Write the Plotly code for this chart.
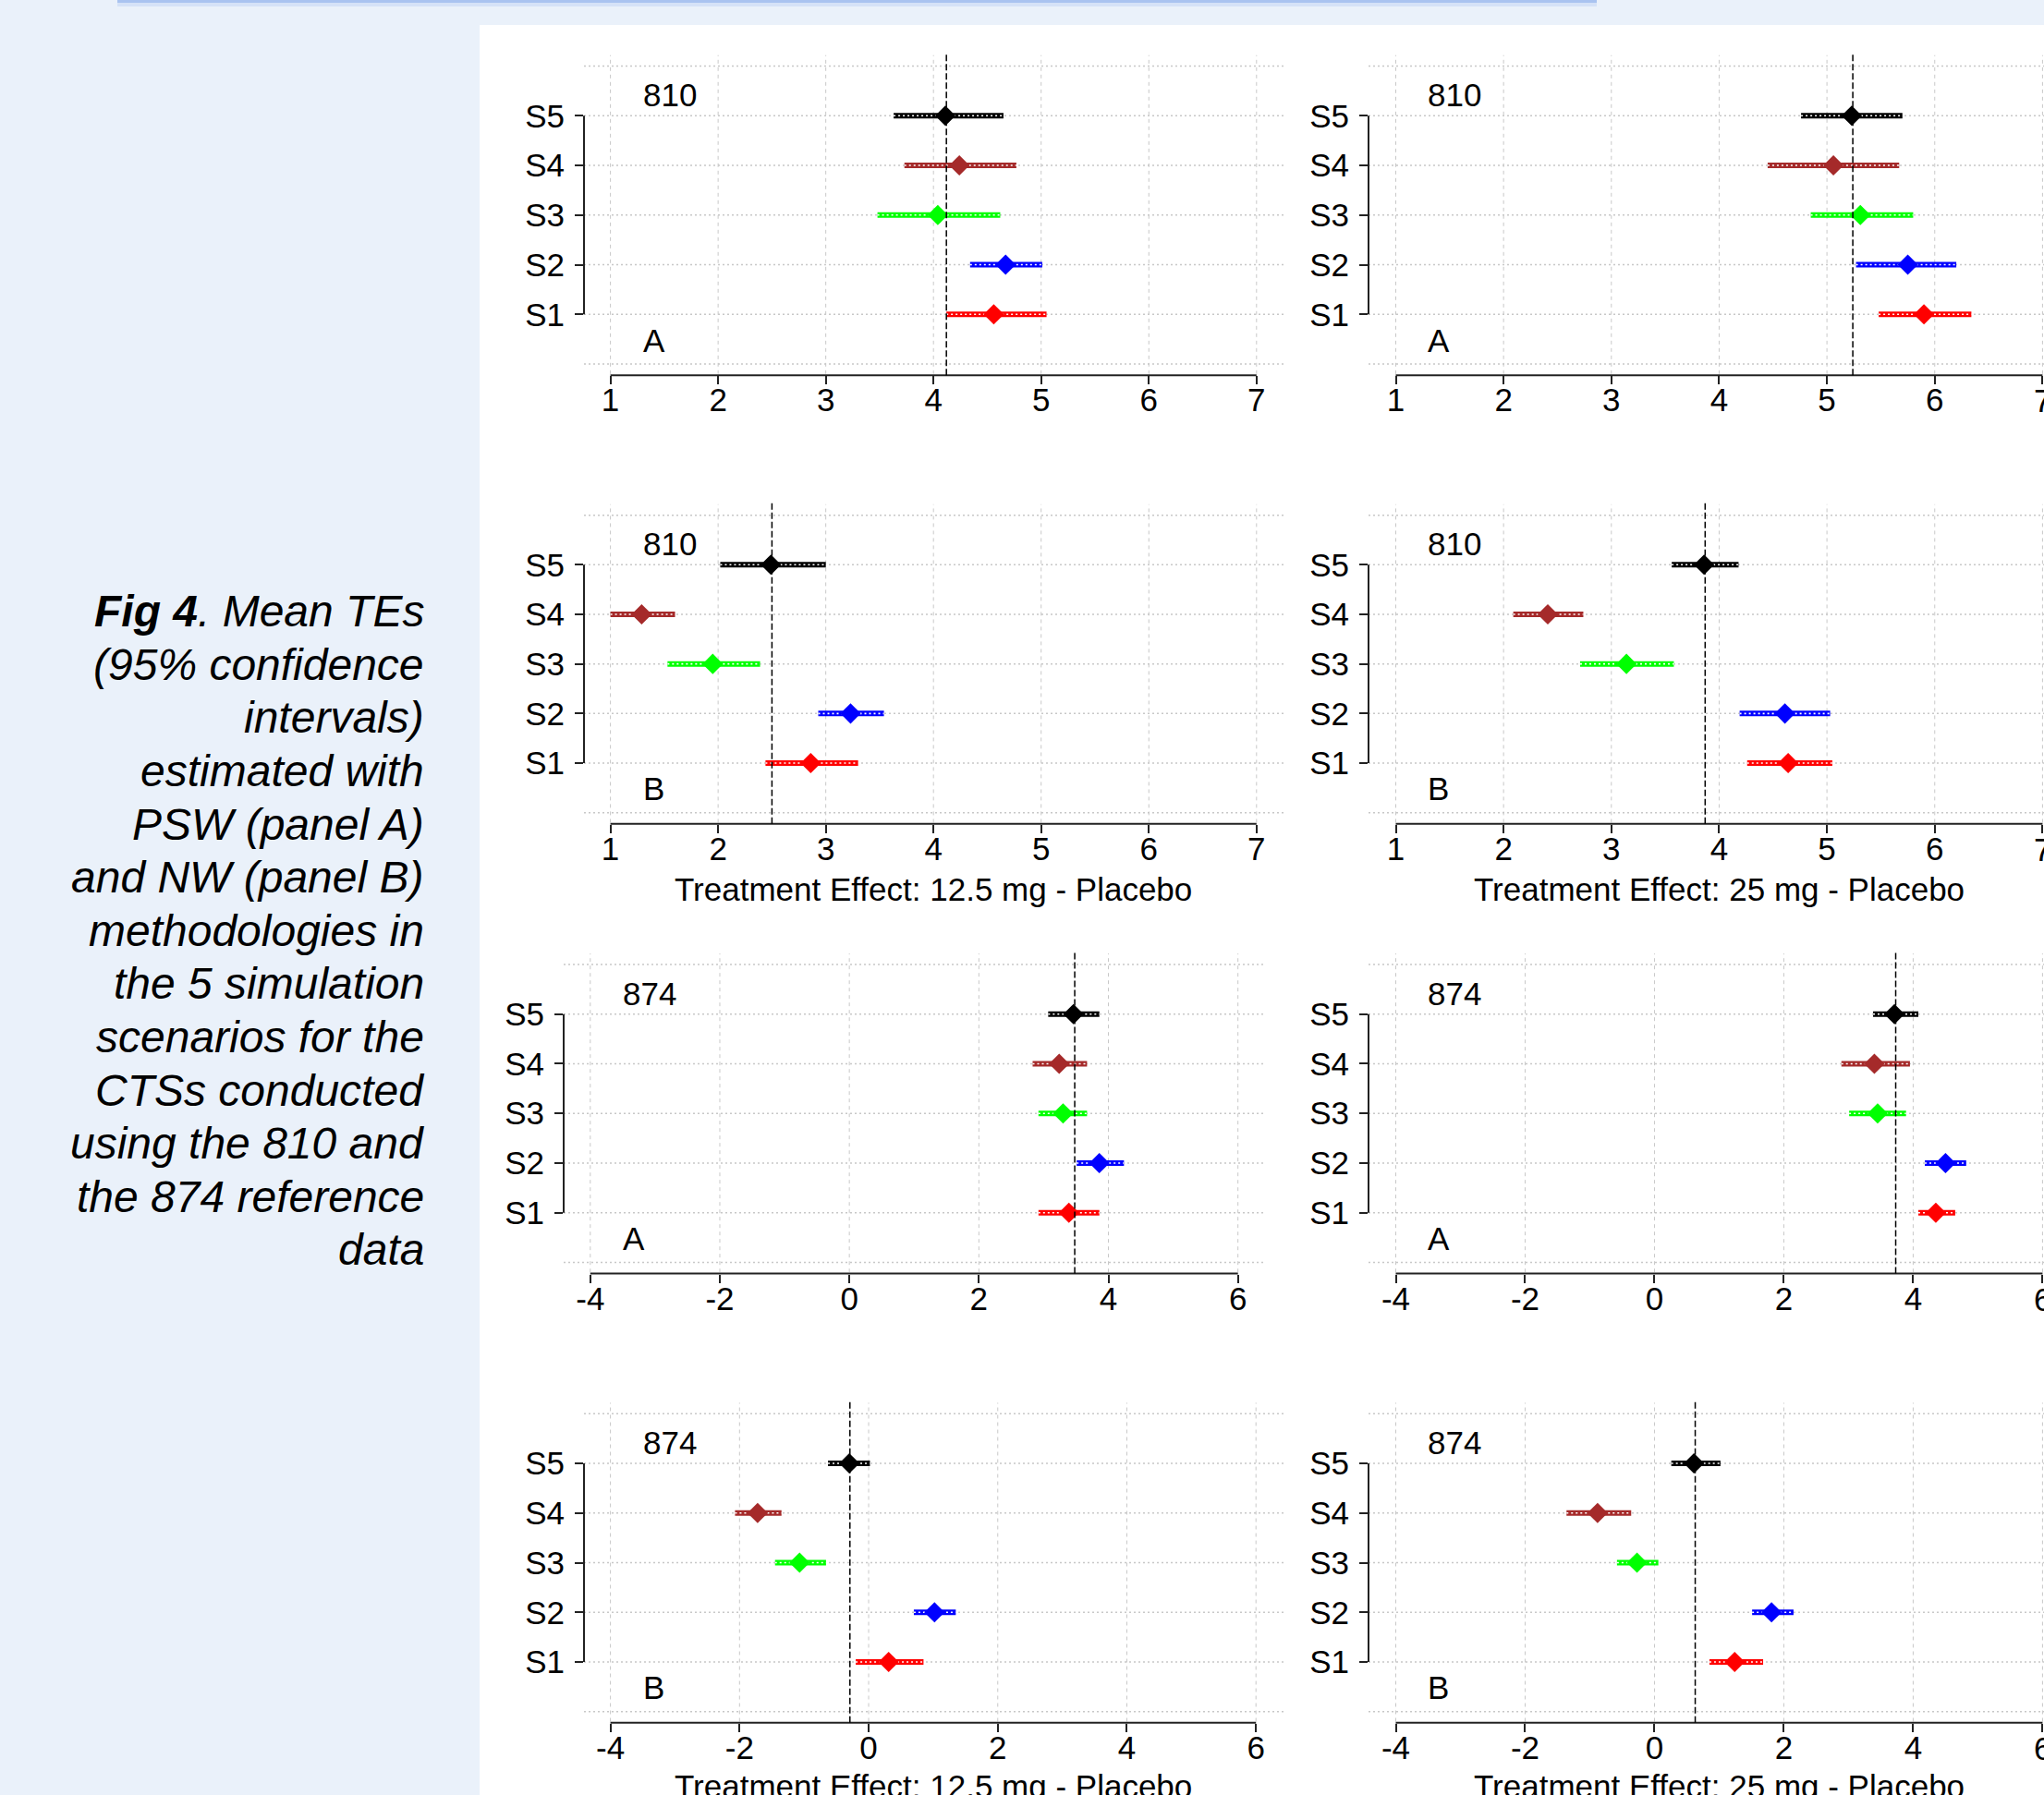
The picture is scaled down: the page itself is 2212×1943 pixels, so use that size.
import plotly.graph_objects as go

W, H = 2212, 1943

# ---------------- data ----------------
scenarios = ["S1", "S2", "S3", "S4", "S5"]
scen_pos = [1, 2, 3, 4, 5]
scen_colors = ["#FF0000", "#0000FF", "#00FF00", "#A52A2A", "#000000"]

# 810 reference data, 12.5 mg, PSW (A)
p1_mean = [4.56, 4.67, 4.04, 4.24, 4.11]
p1_lo = [4.12, 4.34, 3.48, 3.73, 3.63]
p1_hi = [5.05, 5.01, 4.62, 4.77, 4.65]
p1_ref = 4.12
# 810, 25 mg, PSW (A)
p2_mean = [5.90, 5.75, 5.31, 5.06, 5.23]
p2_lo = [5.48, 5.27, 4.85, 4.45, 4.76]
p2_hi = [6.34, 6.20, 5.80, 5.67, 5.70]
p2_ref = 5.24
# 810, 12.5 mg, NW (B)
p3_mean = [2.86, 3.23, 1.95, 1.29, 2.49]
p3_lo = [2.44, 2.93, 1.53, 1.00, 2.02]
p3_hi = [3.30, 3.54, 2.39, 1.60, 3.00]
p3_ref = 2.50
# 810, 25 mg, NW (B)
p4_mean = [4.64, 4.61, 3.14, 2.41, 3.86]
p4_lo = [4.26, 4.19, 2.71, 2.09, 3.56]
p4_hi = [5.05, 5.03, 3.58, 2.74, 4.18]
p4_ref = 3.87
# 874, 12.5 mg, PSW (A)
p5_mean = [3.39, 3.86, 3.30, 3.24, 3.46]
p5_lo = [2.92, 3.51, 2.92, 2.83, 3.07]
p5_hi = [3.86, 4.24, 3.67, 3.67, 3.86]
p5_ref = 3.48
# 874, 25 mg, PSW (A)
p6_mean = [4.35, 4.50, 3.45, 3.40, 3.71]
p6_lo = [4.08, 4.18, 3.01, 2.89, 3.38]
p6_hi = [4.65, 4.82, 3.89, 3.95, 4.08]
p6_ref = 3.73
# 874, 12.5 mg, NW (B)
p7_mean = [0.31, 1.02, -1.07, -1.72, -0.30]
p7_lo = [-0.20, 0.70, -1.45, -2.07, -0.63]
p7_hi = [0.85, 1.35, -0.66, -1.35, 0.02]
p7_ref = -0.29
# 874, 25 mg, NW (B)
p8_mean = [1.24, 1.81, -0.27, -0.88, 0.61]
p8_lo = [0.85, 1.51, -0.58, -1.36, 0.26]
p8_hi = [1.68, 2.15, 0.06, -0.36, 1.02]
p8_ref = 0.63

ticks_810 = [1, 2, 3, 4, 5, 6, 7]
ticks_874 = [-4, -2, 0, 2, 4, 6]
ref_labels = ["810", "810", "810", "810", "874", "874", "874", "874"]
method_labels = ["A", "A", "B", "B", "A", "A", "B", "B"]
x_titles = {2: "Treatment Effect: 12.5 mg - Placebo", 3: "Treatment Effect: 25 mg - Placebo",
            6: "Treatment Effect: 12.5 mg - Placebo", 7: "Treatment Effect: 25 mg - Placebo"}

caption_lines = [
    "<b><i>Fig 4</i></b><i>. Mean TEs</i>",
    "<i>(95% confidence</i>",
    "<i>intervals)</i>",
    "<i>estimated with</i>",
    "<i>PSW (panel A)</i>",
    "<i>and NW (panel B)</i>",
    "<i>methodologies in</i>",
    "<i>the 5 simulation</i>",
    "<i>scenarios for the</i>",
    "<i>CTSs conducted</i>",
    "<i>using the 810 and</i>",
    "<i>the 874 reference</i>",
    "<i>data</i>",
]

panels_data = [
    (p1_mean, p1_lo, p1_hi, p1_ref), (p2_mean, p2_lo, p2_hi, p2_ref),
    (p3_mean, p3_lo, p3_hi, p3_ref), (p4_mean, p4_lo, p4_hi, p4_ref),
    (p5_mean, p5_lo, p5_hi, p5_ref), (p6_mean, p6_lo, p6_hi, p6_ref),
    (p7_mean, p7_lo, p7_hi, p7_ref), (p8_mean, p8_lo, p8_hi, p8_ref),
]

# ---------------- layout geometry (pixels) ----------------
# (x0, x1, first tick px, last tick px, ticks)
cols = [
    (632, 1390, 660.6, 1359.8, ticks_810),
    (1481, 2212, 1510.5, 2210.4, ticks_810),
    (632, 1390, 660.6, 1359.8, ticks_810),
    (1481, 2212, 1510.5, 2210.4, ticks_810),
    (610, 1368, 638.8, 1339.7, ticks_874),
    (1481, 2212, 1510.5, 2210.4, ticks_874),
    (632, 1390, 660.6, 1359.2, ticks_874),
    (1481, 2212, 1510.5, 2210.4, ticks_874),
]
rows_px = [(125.3, 340.3), (611.3, 826.0), (1097.7, 1312.7), (1584.0, 1799.0)]
title_px = {2: 962, 3: 962, 6: 1933, 7: 1933}
Y_LO, Y_HI = -0.225, 6.26

FONT = "Arial, Liberation Sans, sans-serif"
FS = 35
GRID = "#C8C8C8"

fig = go.Figure()
shapes = []
annotations = []

def px_x(p):
    return p / W

def px_y(p):
    return 1 - p / H

for i, (mean, lo, hi, ref) in enumerate(panels_data):
    x0, x1, tp0, tp1, ticks = cols[i]
    s5, s1 = rows_px[i // 2]
    u = (s1 - s5) / 4.0
    ybot = s1 + (1 - Y_LO) * u
    ytop = s5 - (Y_HI - 5) * u
    xu = (tp1 - tp0) / (ticks[-1] - ticks[0])
    r0 = ticks[0] + (x0 - tp0) / xu
    r1 = ticks[0] + (x1 - tp0) / xu
    n = i + 1
    xa = "x" if n == 1 else f"x{n}"
    ya = "y" if n == 1 else f"y{n}"
    xl = "xaxis" if n == 1 else f"xaxis{n}"
    yl = "yaxis" if n == 1 else f"yaxis{n}"
    fig.update_layout(**{
        xl: dict(domain=[px_x(x0), min(px_x(x1), 1.0)], range=[r0, r1], anchor=ya,
                 tickvals=ticks, ticktext=[str(t) for t in ticks], showgrid=False,
                 zeroline=False, showline=False, ticks="outside", ticklen=9,
                 tickwidth=1.5, tickcolor="#222222",
                 ticklabelstandoff=-13,
                 tickfont=dict(family=FONT, size=FS, color="#000000"), fixedrange=True),
        yl: dict(domain=[px_y(ybot), px_y(ytop)], range=[Y_LO, Y_HI], anchor=xa,
                 tickvals=scen_pos, ticktext=scenarios, showgrid=False, zeroline=False,
                 showline=False, ticks="outside", ticklen=9, tickwidth=1.5,
                 tickcolor="#222222", ticklabelstandoff=4,
                 tickfont=dict(family=FONT, size=FS, color="#000000"), fixedrange=True),
    })
    # gridlines
    for t in ticks:
        shapes.append(dict(type="line", xref=xa, yref=ya, x0=t, x1=t, y0=-0.2, y1=6.22,
                           line=dict(color=GRID, width=1, dash="4px,4px"), layer="below"))
    for gy in range(0, 7):
        shapes.append(dict(type="line", xref=f"{xa} domain", yref=ya, x0=0, x1=1, y0=gy, y1=gy,
                           line=dict(color=GRID, width=1.5, dash="2px,3px"), layer="below"))
    # axis lines
    shapes.append(dict(type="line", xref=xa, yref=f"{ya} domain", x0=ticks[0], x1=ticks[-1],
                       y0=0, y1=0, line=dict(color="#222222", width=2)))
    shapes.append(dict(type="line", xref=f"{xa} domain", yref=ya, x0=0, x1=0, y0=1, y1=5,
                       line=dict(color="#222222", width=2)))
    # reference line
    shapes.append(dict(type="line", xref=xa, yref=f"{ya} domain", x0=ref, x1=ref, y0=0, y1=1,
                       line=dict(color="#000000", width=1.5, dash="7px,3px")))
    # CI bars
    for k in range(5):
        fig.add_trace(go.Scatter(x=[lo[k], hi[k]], y=[scen_pos[k]] * 2, mode="lines",
                                 line=dict(color=scen_colors[k], width=6), xaxis=xa, yaxis=ya,
                                 showlegend=False, hoverinfo="skip"))
    wx, wy = [], []
    for k in range(5):
        wx += [lo[k], hi[k], None]
        wy += [scen_pos[k], scen_pos[k], None]
    fig.add_trace(go.Scatter(x=wx, y=wy, mode="lines",
                             line=dict(color="#FFFFFF", width=1.6, dash="2px,3px"),
                             xaxis=xa, yaxis=ya, showlegend=False, hoverinfo="skip"))
    fig.add_trace(go.Scatter(x=mean, y=scen_pos, mode="markers",
                             marker=dict(symbol="diamond", size=17, color=scen_colors,
                                         line=dict(width=0)),
                             xaxis=xa, yaxis=ya, showlegend=False))
    # panel labels
    annotations.append(dict(text=ref_labels[i], xref="paper", yref=ya, x=px_x(x0 + 62), y=5.42,
                            xanchor="left", yanchor="middle", showarrow=False,
                            font=dict(family=FONT, size=FS, color="#000000")))
    annotations.append(dict(text=method_labels[i], xref="paper", yref=ya, x=px_x(x0 + 62), y=0.48,
                            xanchor="left", yanchor="middle", showarrow=False,
                            font=dict(family=FONT, size=FS, color="#000000")))
    if i in x_titles:
        annotations.append(dict(text=x_titles[i], xref=xa, yref="paper",
                                x=(ticks[0] + ticks[-1]) / 2.0, y=px_y(title_px[i]),
                                xanchor="center", yanchor="middle", showarrow=False,
                                font=dict(family=FONT, size=FS, color="#000000")))
    # last tick label of the right-hand panels, cut by the page edge
    if x1 >= W:
        annotations.append(dict(text=str(ticks[-1]), xref=xa, yref="paper", x=ticks[-1],
                                y=px_y(ybot + 27.7), xanchor="center", yanchor="middle",
                                showarrow=False,
                                font=dict(family=FONT, size=FS, color="#000000")))

# page background decorations (paper coords)
BG = "#EAF1FA"
bg_shapes = [
    dict(type="rect", xref="paper", yref="paper", x0=0, x1=px_x(519), y0=0, y1=1,
         fillcolor=BG, line=dict(width=0), layer="below"),
    dict(type="rect", xref="paper", yref="paper", x0=0, x1=1, y0=px_y(27), y1=1,
         fillcolor=BG, line=dict(width=0), layer="below"),
    dict(type="rect", xref="paper", yref="paper", x0=px_x(127), x1=px_x(1728), y0=px_y(7), y1=px_y(3),
         fillcolor="#D5E2F7", line=dict(width=0), layer="below"),
    dict(type="rect", xref="paper", yref="paper", x0=px_x(127), x1=px_x(1728), y0=px_y(3), y1=1,
         fillcolor="#A9C3F0", line=dict(width=0), layer="below"),
]

for j, line in enumerate(caption_lines):
    annotations.append(dict(text=line, xref="paper", yref="paper", x=px_x(461),
                            y=px_y(661.6 + j * 57.6), xanchor="right", yanchor="middle",
                            showarrow=False, align="right",
                            font=dict(family=FONT, size=48, color="#000000")))

fig.update_layout(width=W, height=H, autosize=False,
                  margin=dict(l=0, r=0, t=0, b=0, pad=0),
                  paper_bgcolor="#FFFFFF", plot_bgcolor="rgba(0,0,0,0)",
                  shapes=bg_shapes + shapes, annotations=annotations, showlegend=False)

post = "document.body.style.margin='0';"

fig.write_html("out.html", config={"displayModeBar": False}, post_script=post)
